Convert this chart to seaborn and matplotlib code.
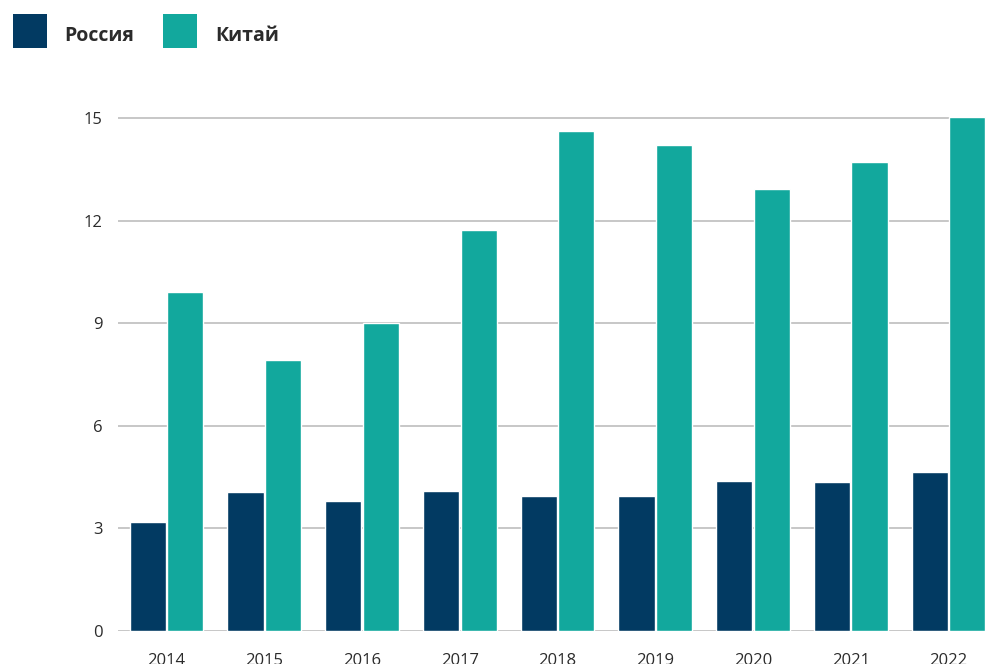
import pandas as pd
import seaborn as sns
import matplotlib.pyplot as plt
from matplotlib.lines import Line2D
from matplotlib.ticker import FixedLocator

years = ['2014', '2015', '2016', '2017', '2018', '2019', '2020', '2021', '2022']
russia = [3.19, 4.06, 3.80, 4.09, 3.95, 3.95, 4.39, 4.36, 4.65]
china = [9.91, 7.92, 9.00, 11.72, 14.62, 14.21, 12.92, 13.71, 15.03]
series_names = ['Россия', 'Китай']
yticks = [0, 3, 6, 9, 12, 15]
colors = ['#023a62', '#12a89d']

df = pd.DataFrame({
    'year': years * 2,
    'value': russia + china,
    'country': [series_names[0]] * len(years) + [series_names[1]] * len(years),
})

sns.set_style('white')
plt.rcParams['font.family'] = ['Open Sans', 'DejaVu Sans']

fig = plt.figure(figsize=(9.87, 6.64), dpi=100)
ax = fig.add_axes([0.1196, 0.0497, 0.8804, 0.7830])

sns.barplot(data=df, x='year', y='value', hue='country',
            palette=colors, width=0.77, gap=0.04,
            saturation=1, ax=ax, legend=False, zorder=3)

ax.set_xlim(-0.496, 8.394)
ax.set_ylim(0, 15.2)
ax.yaxis.set_major_locator(FixedLocator(yticks))
ax.grid(axis='y', color='#bdbdbd', linewidth=1.2, zorder=0)
ax.set_axisbelow(True)
sns.despine(ax=ax, left=True, bottom=True, top=True, right=True)
ax.set_xlabel('')
ax.set_ylabel('')
ax.tick_params(axis='both', length=0, labelsize=12, colors='#2b2b2b')
ax.tick_params(axis='y', pad=11)
ax.tick_params(axis='x', pad=16)

# square legend markers at the top left
handles = [Line2D([], [], marker='s', linestyle='none', markersize=23.8,
                  markerfacecolor=c, markeredgewidth=0) for c in colors]
leg = fig.legend(handles, series_names, loc='upper left', bbox_to_anchor=(0.0132, 0.968),
                 ncol=2, frameon=False, borderpad=0, borderaxespad=0,
                 handlelength=1.7, handleheight=1.7,
                 handletextpad=0.95, columnspacing=1.5,
                 prop={'weight': 'bold', 'size': 14})
for t in leg.get_texts():
    t.set_color('#2b2b2b')

fig.savefig('out.png', dpi=100)
